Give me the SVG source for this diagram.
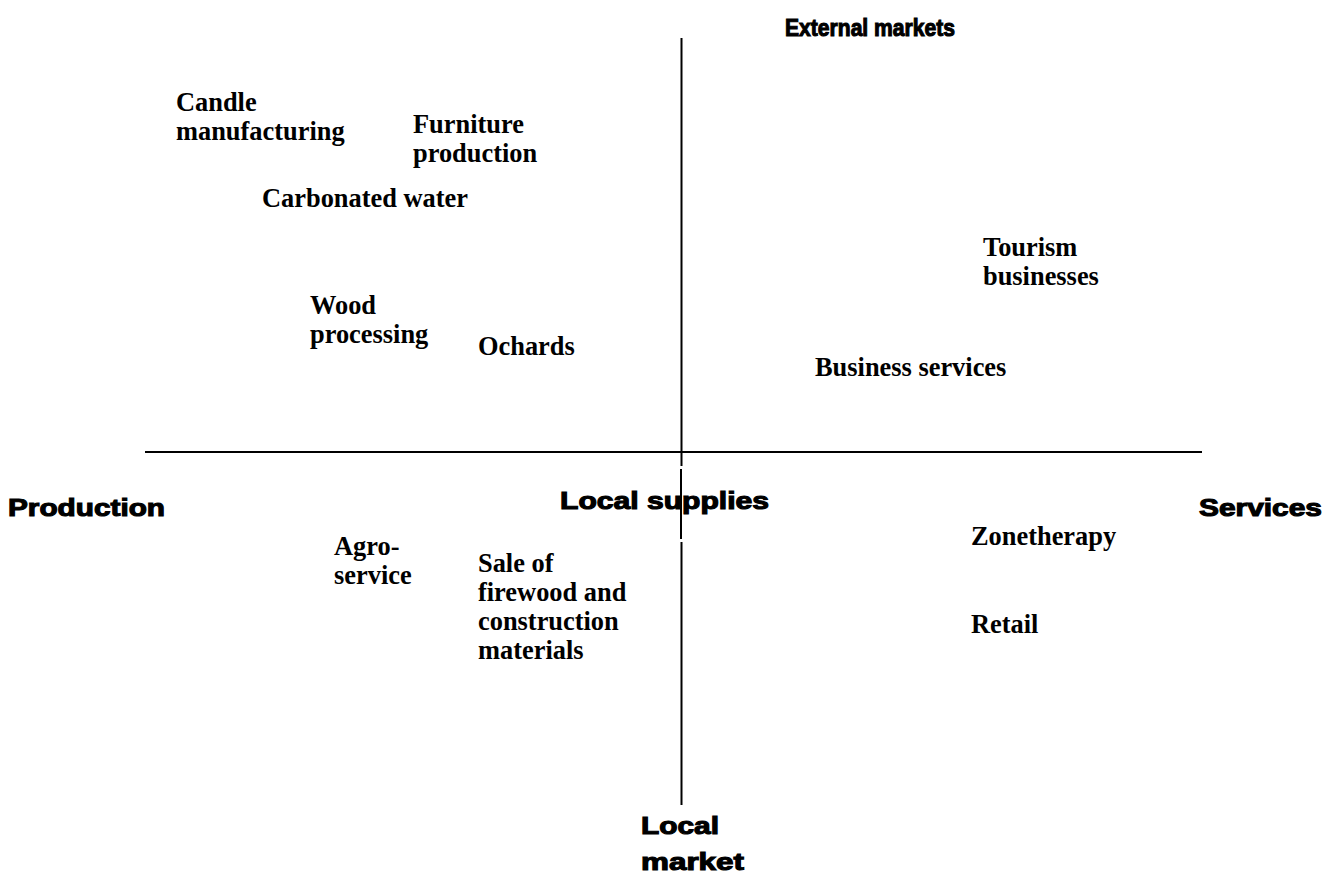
<svg xmlns="http://www.w3.org/2000/svg" width="1332" height="874" viewBox="0 0 1332 874">
  <style>
    .axis { stroke: #000; stroke-width: 2; fill: none; }
    .head { font-family: "Liberation Sans", Arial, sans-serif; font-weight: bold; font-size: 24px; fill: #000; stroke: #000; stroke-width: 1.1; }
    .item { font-family: "Liberation Serif", "Times New Roman", serif; font-weight: bold; font-size: 26.4px; fill: #000; }
  </style>
  <rect width="1332" height="874" fill="#fff"/>

  <!-- axes -->
  <g id="connectors">
    <line class="axis" x1="145" y1="452" x2="1202" y2="452"/>
    <line class="axis" x1="681.5" y1="38" x2="681.5" y2="466"/>
    <line class="axis" x1="681" y1="469" x2="681" y2="539"/>
    <line class="axis" x1="681.5" y1="542" x2="681.5" y2="805"/>
  </g>

  <!-- axis labels -->
  <g id="label-external">
    <text class="head" x="785" y="36" textLength="170" lengthAdjust="spacingAndGlyphs">External markets</text>
  </g>
  <g id="label-production">
    <text class="head" x="8" y="516" textLength="157" lengthAdjust="spacingAndGlyphs">Production</text>
  </g>
  <g id="label-services">
    <text class="head" x="1199" y="516" textLength="123" lengthAdjust="spacingAndGlyphs">Services</text>
  </g>
  <g id="label-local-supplies">
    <text class="head" x="560" y="509" textLength="209" lengthAdjust="spacingAndGlyphs">Local supplies</text>
  </g>
  <g id="label-local-market">
    <text class="head" x="641" y="834" textLength="78" lengthAdjust="spacingAndGlyphs">Local</text>
    <text class="head" x="641" y="870" textLength="103" lengthAdjust="spacingAndGlyphs">market</text>
  </g>

  <!-- activities -->
  <g id="candle">
    <text class="item" x="176" y="111">Candle</text>
    <text class="item" x="176" y="140">manufacturing</text>
  </g>
  <g id="furniture">
    <text class="item" x="413" y="133">Furniture</text>
    <text class="item" x="413" y="162">production</text>
  </g>
  <g id="carbonated">
    <text class="item" x="262" y="207">Carbonated water</text>
  </g>
  <g id="wood">
    <text class="item" x="310" y="314">Wood</text>
    <text class="item" x="310" y="343">processing</text>
  </g>
  <g id="ochards">
    <text class="item" x="478" y="355">Ochards</text>
  </g>
  <g id="tourism">
    <text class="item" x="983" y="256">Tourism</text>
    <text class="item" x="983" y="285">businesses</text>
  </g>
  <g id="business-services">
    <text class="item" x="815" y="376">Business services</text>
  </g>
  <g id="agro">
    <text class="item" x="334" y="555">Agro-</text>
    <text class="item" x="334" y="584">service</text>
  </g>
  <g id="firewood">
    <text class="item" x="478" y="572">Sale of</text>
    <text class="item" x="478" y="601">firewood and</text>
    <text class="item" x="478" y="630">construction</text>
    <text class="item" x="478" y="659">materials</text>
  </g>
  <g id="zonetherapy">
    <text class="item" x="971" y="545">Zonetherapy</text>
  </g>
  <g id="retail">
    <text class="item" x="971" y="633">Retail</text>
  </g>
</svg>
